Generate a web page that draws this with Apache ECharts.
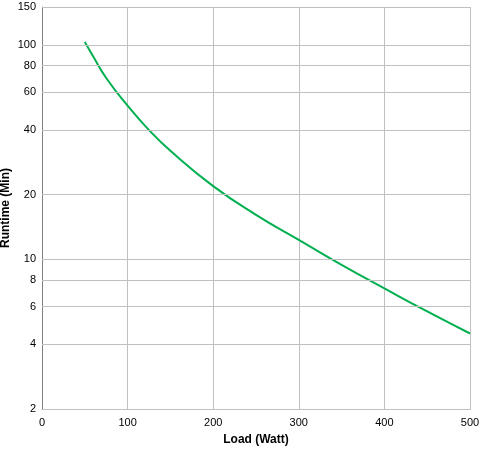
<!DOCTYPE html>
<html>
<head>
<meta charset="utf-8" />
<script src="https://cdn.jsdelivr.net/npm/echarts@6/dist/echarts.min.js"></script>
<style>body{margin:0;background:#fff}</style>
</head>
<body>
<div id="divChart" style="width:480px;height:450px;"></div>
<script>
// load (W) vs runtime (min)
let loads = [50, 60, 75, 100, 125, 150, 200, 250, 300, 350, 400, 450, 500];
let runtimes = [103, 88, 70, 52, 40, 32, 21.9, 16.1, 12.3, 9.4, 7.3, 5.7, 4.5];
let yTicks = [2, 4, 6, 8, 10, 20, 40, 60, 80, 100, 150];

let font = 'Liberation Sans, Arial, sans-serif';
let option = {
    backgroundColor: '#fff',
    animation: false,
    grid: { left: 42, right: 10, top: 7, bottom: 41, containLabel: false, outerBoundsMode: 'none' },
    xAxis: {
        type: 'value', min: 0, max: 500, interval: 100,
        name: 'Load (Watt)', nameLocation: 'middle', nameGap: 25,
        nameTextStyle: { fontFamily: font, fontWeight: 'bold', fontSize: 12, color: '#000' },
        axisLine: { show: true, lineStyle: { color: '#808080' } },
        axisTick: { show: false },
        axisLabel: { fontFamily: font, fontSize: 11, color: '#000', margin: 8 },
        splitLine: { lineStyle: { color: '#c0c0c0' } }
    },
    yAxis: {
        type: 'log', min: 2, max: 150, logBase: 10,
        name: 'Runtime (Min)', nameLocation: 'middle', nameGap: 30,
        nameTextStyle: { fontFamily: font, fontWeight: 'bold', fontSize: 12, color: '#000' },
        axisLine: { show: true, lineStyle: { color: '#808080' } },
        axisTick: { show: false },
        axisLabel: { show: false },
        splitLine: { show: false }
    },
    series: [{
        type: 'line',
        data: loads.map((x, i) => [x, runtimes[i]]),
        smooth: true,
        showSymbol: false,
        lineStyle: { color: '#00b050', width: 2 },
        markLine: {
            silent: true, symbol: 'none',
            lineStyle: { color: '#c0c0c0', type: 'solid', width: 1 },
            label: { position: 'start', fontFamily: font, fontSize: 11, color: '#000', distance: 6, formatter: p => p.value },
            data: yTicks.map(v => ({ yAxis: v }))
        },
        z: 3
    }]
};
echarts.init(document.getElementById('divChart')).setOption(option);
</script>
</body>
</html>
